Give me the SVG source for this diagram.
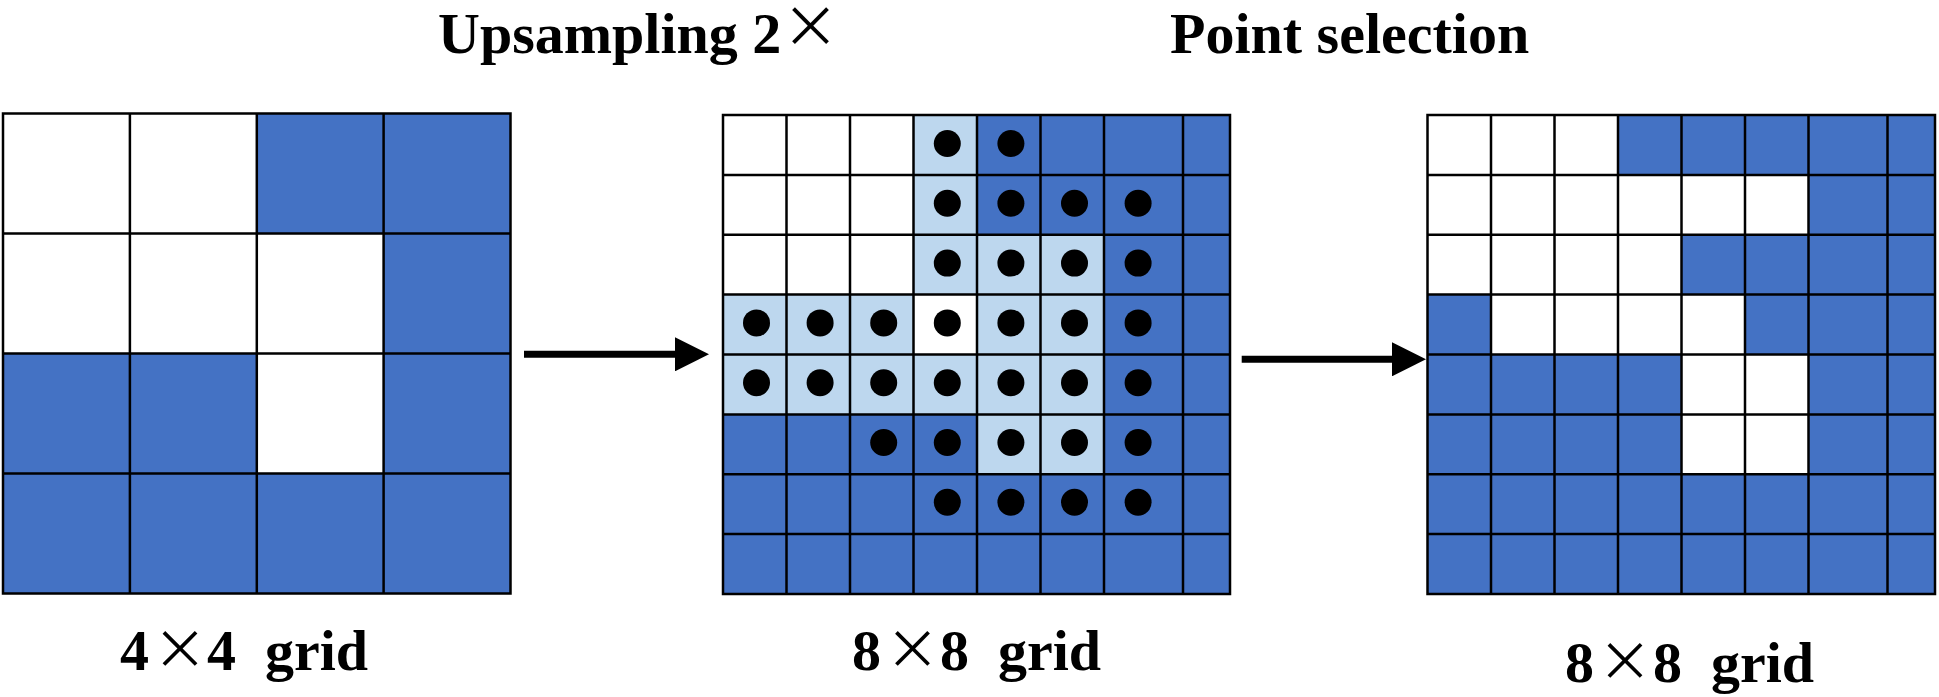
<svg xmlns="http://www.w3.org/2000/svg" width="1939" height="697" viewBox="0 0 1939 697">
<style>
.bg{fill:#ffffff}
.d{fill:#4472C4}
.w{fill:#ffffff}
.l{fill:#BDD7EE}
.ln{fill:none;stroke:#000;stroke-width:2.5}
.dot{fill:#000}
.t{font-family:"Liberation Serif","Times New Roman",serif;font-weight:bold;font-size:58px;fill:#000}
.x{font-family:"Noto Sans CJK SC","DejaVu Sans",sans-serif;font-weight:normal;font-size:54px}
.arr{stroke:#000;stroke-width:7;fill:none}
</style>
<defs>
<marker id="ah" markerUnits="userSpaceOnUse" viewBox="0 0 34 34" markerWidth="34" markerHeight="34" refX="1" refY="17" orient="auto">
<path d="M0,0 L34,17 L0,34 Z" fill="#000"/>
</marker>
</defs>
<rect class="bg" x="0" y="0" width="1939" height="697"/>

<g id="title-upsampling"><text class="t" x="438" y="53">Upsampling 2<tspan class="x" x="782" y="47" style="font-size:57px">×</tspan></text></g>
<g id="title-point-selection"><text class="t" x="1170" y="53">Point selection</text></g>

<g id="grid-4x4">
<rect class="d" x="3" y="113.5" width="507.5" height="480"/>
<rect class="w" x="3" y="113.5" width="253.8" height="240"/>
<rect class="w" x="256.8" y="233.5" width="126.8" height="240"/>
<path class="ln" d="M129.9 113.5V593.5M256.8 113.5V593.5M383.6 113.5V593.5M3 233.5H510.5M3 353.5H510.5M3 473.5H510.5"/>
<rect class="ln" x="3" y="113.5" width="507.5" height="480"/>
</g>

<g id="grid-8x8-upsampled">
<rect class="d" x="723" y="115" width="507" height="479"/>
<rect class="w" x="723" y="115" width="190.5" height="179.6"/>
<rect class="w" x="913.5" y="294.6" width="63.5" height="59.9"/>
<rect class="l" x="913.5" y="115" width="63.5" height="179.6"/>
<rect class="l" x="977" y="234.8" width="127" height="239.5"/>
<rect class="l" x="723" y="294.6" width="190.5" height="119.8"/>
<rect class="l" x="913.5" y="354.5" width="63.5" height="59.9"/>
<path class="ln" d="M786.5 115V594M850 115V594M913.5 115V594M977 115V594M1040.5 115V594M1104 115V594M1183 115V594M723 174.9H1230M723 234.8H1230M723 294.6H1230M723 354.5H1230M723 414.4H1230M723 474.3H1230M723 534.1H1230"/>
<rect class="ln" x="723" y="115" width="507" height="479"/>
<g id="points">
<circle class="dot" cx="947.3" cy="143.5" r="13.5"/><circle class="dot" cx="1010.9" cy="143.5" r="13.5"/>
<circle class="dot" cx="947.3" cy="203.3" r="13.5"/><circle class="dot" cx="1010.9" cy="203.3" r="13.5"/><circle class="dot" cx="1074.5" cy="203.3" r="13.5"/><circle class="dot" cx="1138.1" cy="203.3" r="13.5"/>
<circle class="dot" cx="947.3" cy="263.1" r="13.5"/><circle class="dot" cx="1010.9" cy="263.1" r="13.5"/><circle class="dot" cx="1074.5" cy="263.1" r="13.5"/><circle class="dot" cx="1138.1" cy="263.1" r="13.5"/>
<circle class="dot" cx="756.5" cy="322.9" r="13.5"/><circle class="dot" cx="820.1" cy="322.9" r="13.5"/><circle class="dot" cx="883.7" cy="322.9" r="13.5"/><circle class="dot" cx="947.3" cy="322.9" r="13.5"/><circle class="dot" cx="1010.9" cy="322.9" r="13.5"/><circle class="dot" cx="1074.5" cy="322.9" r="13.5"/><circle class="dot" cx="1138.1" cy="322.9" r="13.5"/>
<circle class="dot" cx="756.5" cy="382.7" r="13.5"/><circle class="dot" cx="820.1" cy="382.7" r="13.5"/><circle class="dot" cx="883.7" cy="382.7" r="13.5"/><circle class="dot" cx="947.3" cy="382.7" r="13.5"/><circle class="dot" cx="1010.9" cy="382.7" r="13.5"/><circle class="dot" cx="1074.5" cy="382.7" r="13.5"/><circle class="dot" cx="1138.1" cy="382.7" r="13.5"/>
<circle class="dot" cx="883.7" cy="442.5" r="13.5"/><circle class="dot" cx="947.3" cy="442.5" r="13.5"/><circle class="dot" cx="1010.9" cy="442.5" r="13.5"/><circle class="dot" cx="1074.5" cy="442.5" r="13.5"/><circle class="dot" cx="1138.1" cy="442.5" r="13.5"/>
<circle class="dot" cx="947.3" cy="502.3" r="13.5"/><circle class="dot" cx="1010.9" cy="502.3" r="13.5"/><circle class="dot" cx="1074.5" cy="502.3" r="13.5"/><circle class="dot" cx="1138.1" cy="502.3" r="13.5"/>
</g>
</g>

<g id="grid-8x8-selected">
<rect class="d" x="1427.5" y="115" width="507.5" height="479"/>
<rect class="w" x="1427.5" y="115" width="190.5" height="179.6"/>
<rect class="w" x="1618" y="174.9" width="190.5" height="59.9"/>
<rect class="w" x="1618" y="234.8" width="63.5" height="59.8"/>
<rect class="w" x="1491" y="294.6" width="254" height="59.9"/>
<rect class="w" x="1681.5" y="354.5" width="127" height="119.8"/>
<path class="ln" d="M1491 115V594M1554.5 115V594M1618 115V594M1681.5 115V594M1745 115V594M1808.5 115V594M1887.5 115V594M1427.5 174.9H1935M1427.5 234.8H1935M1427.5 294.6H1935M1427.5 354.5H1935M1427.5 414.4H1935M1427.5 474.3H1935M1427.5 534.1H1935"/>
<rect class="ln" x="1427.5" y="115" width="507.5" height="479"/>
</g>

<g id="connectors">
<line class="arr" x1="524" y1="354.3" x2="676" y2="354.3" marker-end="url(#ah)"/>
<line class="arr" x1="1241.7" y1="359.3" x2="1393" y2="359.3" marker-end="url(#ah)"/>
</g>

<g id="label-4x4"><text class="t" y="670"><tspan x="120">4</tspan><tspan class="x" x="153" y="669">×</tspan><tspan x="207" y="670">4</tspan><tspan x="265">grid</tspan></text></g>
<g id="label-8x8-mid"><text class="t" y="670"><tspan x="852">8</tspan><tspan class="x" x="885.5" y="669">×</tspan><tspan x="940" y="670">8</tspan><tspan x="998">grid</tspan></text></g>
<g id="label-8x8-right"><text class="t" y="682"><tspan x="1565">8</tspan><tspan class="x" x="1598" y="681">×</tspan><tspan x="1653" y="682">8</tspan><tspan x="1711">grid</tspan></text></g>
</svg>
